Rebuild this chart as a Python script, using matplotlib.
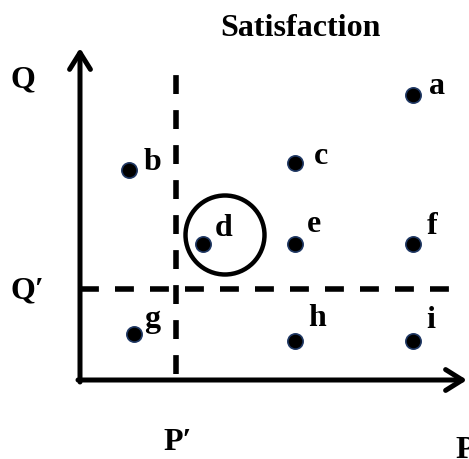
import matplotlib.pyplot as plt
from matplotlib.patches import Circle

# points (P, Q) in chart units
names = ['a', 'b', 'c', 'd', 'e', 'f', 'g', 'h', 'i']
p_vals = [33.3, 4.9, 21.5, 12.3, 21.5, 33.3, 5.4, 21.5, 33.3]
q_vals = [28.5, 21.0, 21.7, 13.6, 13.6, 13.6, 4.6, 3.9, 3.9]
p_thresh = 9.6
q_thresh = 9.1

# label offsets (chart units) for each point letter
lab_dx = [2.4, 2.3, 2.6, 2.1, 1.9, 1.9, 1.8, 2.2, 1.8]
lab_dy = [0.8, 0.8, 0.7, 1.6, 1.9, 1.7, 1.4, 2.3, 2.1]

plt.rcParams['font.family'] = ['Liberation Serif', 'DejaVu Serif']
fs = 23

fig = plt.figure(figsize=(4.69, 4.59), dpi=100)
ax = fig.add_axes([0, 0, 1, 1])
ax.set_xlim(-8, 38.9)
ax.set_ylim(-7.9, 38)
ax.axis('off')

# axes arrows
arr = dict(arrowstyle='->,head_length=1.2,head_width=0.75', lw=3.6, color='black',
           shrinkA=0, shrinkB=0)
ax.annotate('', xy=(0, 33.2), xytext=(0, -0.2), arrowprops=arr)
ax.annotate('', xy=(38.7, 0), xytext=(-0.2, 0), arrowprops=arr)

# threshold lines
dash = (0, (3.4, 2.9))
ax.plot([p_thresh, p_thresh], [0.6, 31.2], color='black', lw=4, ls=dash)
ax.plot([0, 38.3], [q_thresh, q_thresh], color='black', lw=4, ls=dash)

# points and letters
ax.plot(p_vals, q_vals, 'o', ms=11, mfc='black', mec='#1f3864', mew=1.2, ls='none')
for n, x, y, dx, dy in zip(names, p_vals, q_vals, lab_dx, lab_dy):
    ax.text(x + dx, y + dy, n, fontsize=fs, fontweight='bold', ha='center', va='center')

# circle around d
ax.add_patch(Circle((14.5, 14.5), 3.95, fill=False, lw=3.2, color='black'))

ax.text(22, 35.2, 'Satisfaction', fontsize=fs, fontweight='bold', ha='center', va='center')
ax.text(-5.7, 30.0, 'Q', fontsize=fs, fontweight='bold', ha='center', va='center')
ax.text(-5.3, 8.9, 'Q\u2032', fontsize=fs, fontweight='bold', ha='center', va='center')
ax.text(9.8, -6.3, 'P\u2032', fontsize=fs, fontweight='bold', ha='center', va='center')
ax.text(37.5, -5.6, 'P', fontsize=fs, fontweight='bold', ha='left', va='top')

fig.savefig('out.png', dpi=100)
